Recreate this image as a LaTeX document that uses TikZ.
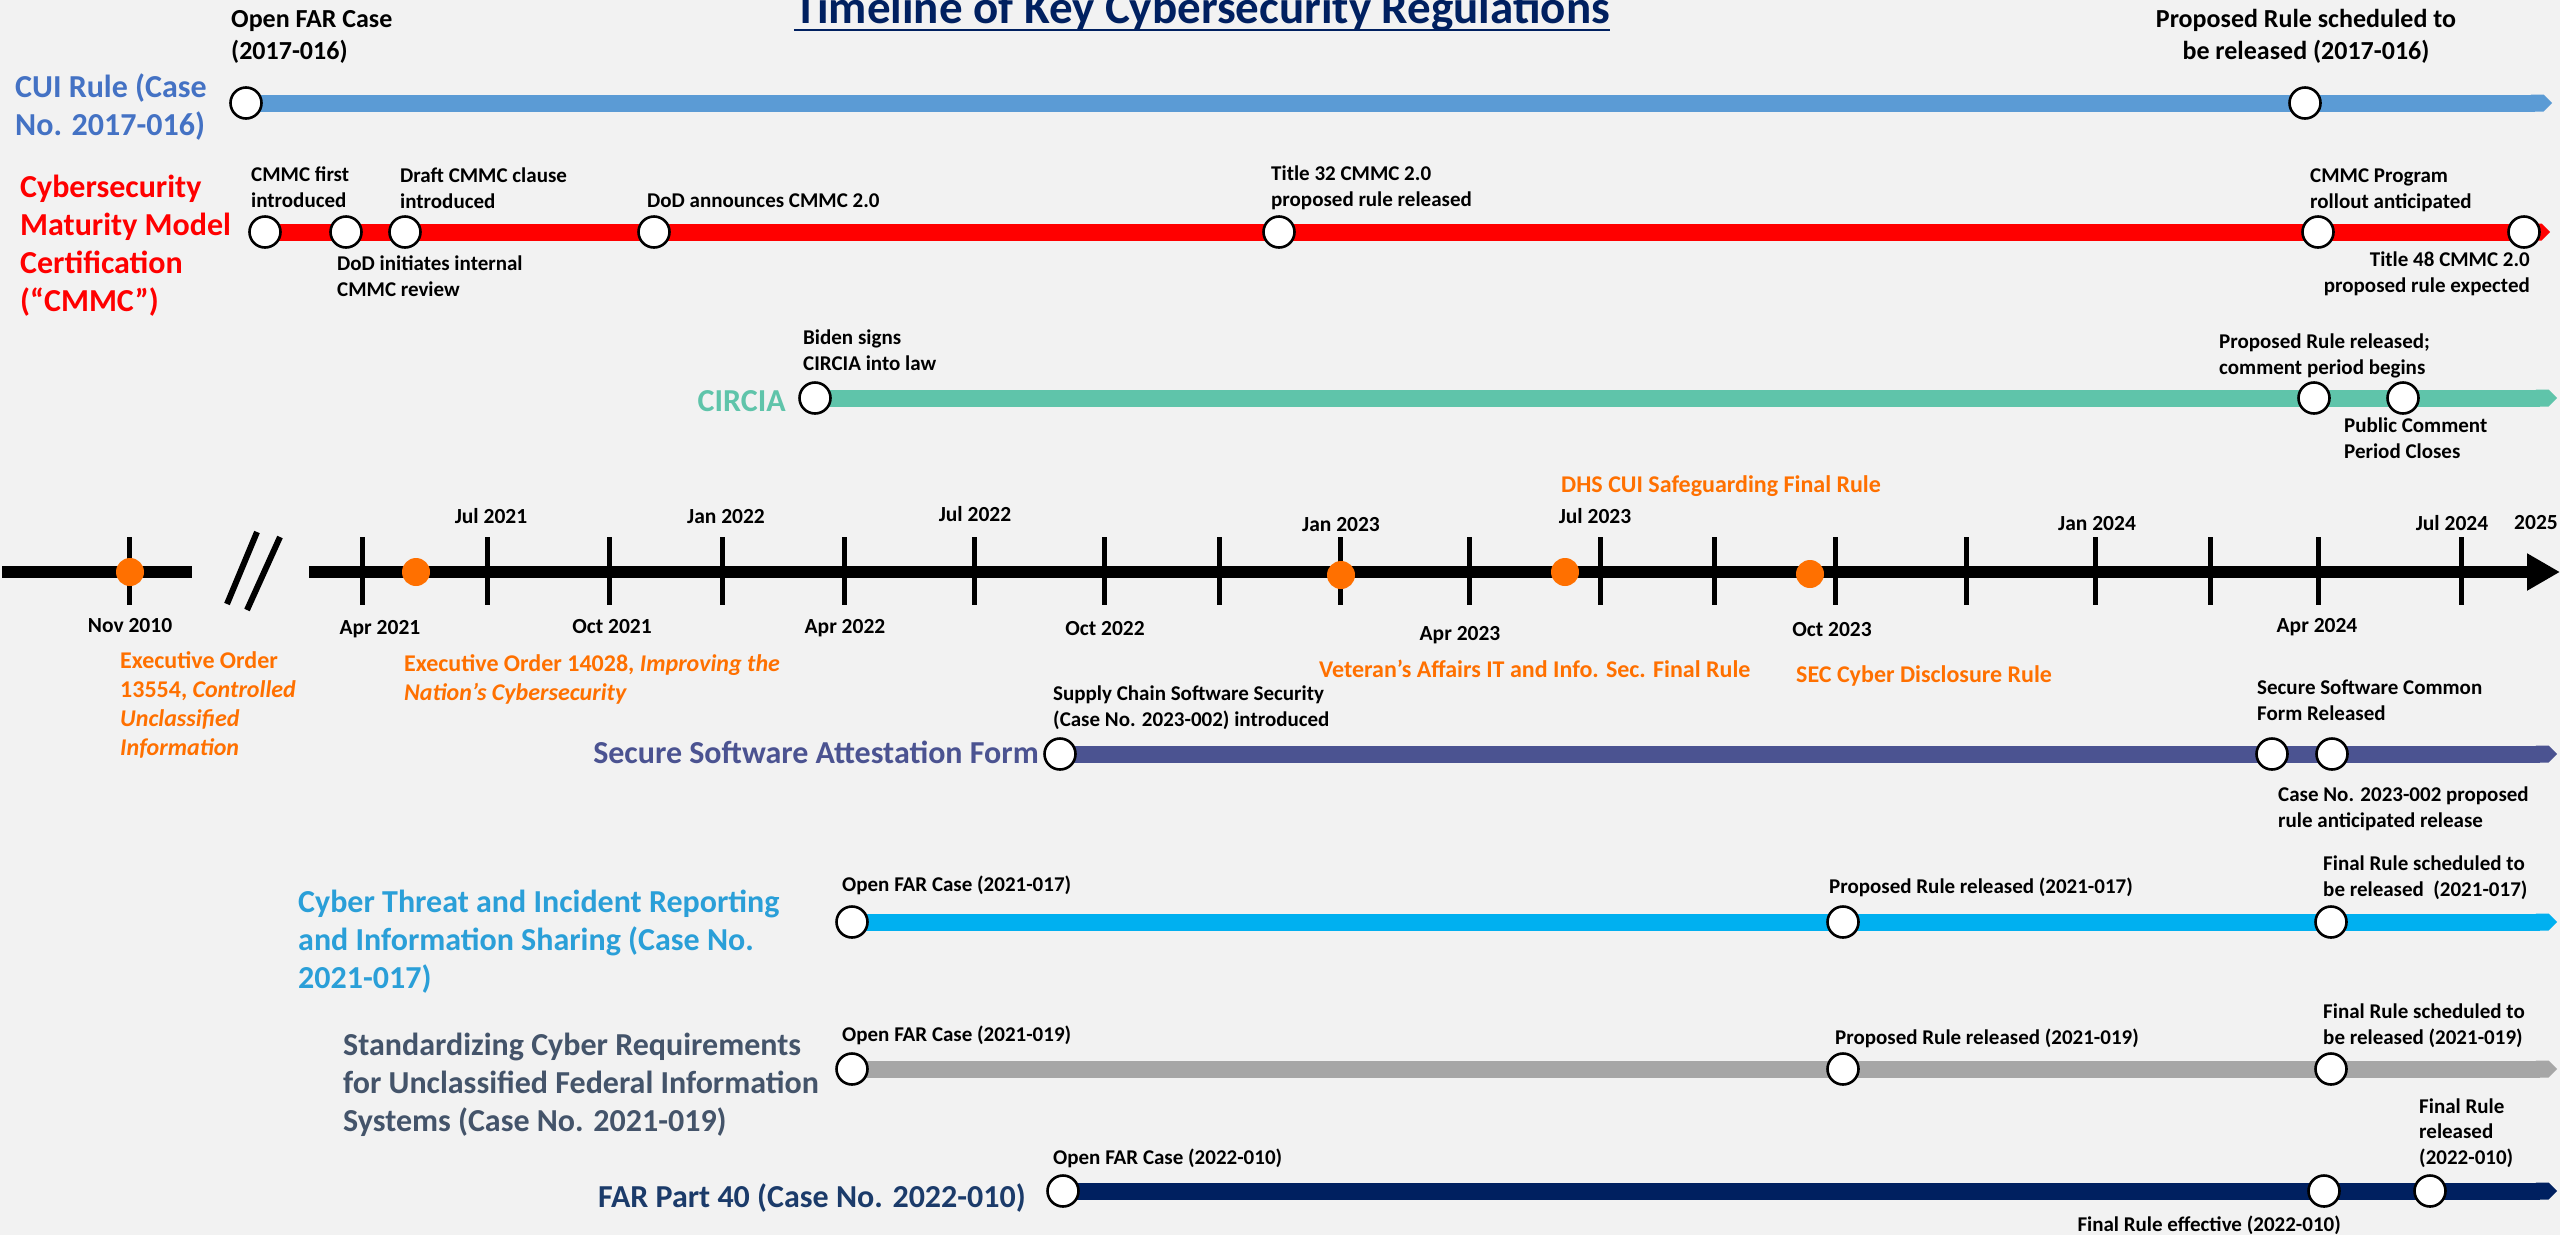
\documentclass[tikz,border=0pt]{standalone}
\usepackage{fontspec}
\setmainfont{Carlito}
\usetikzlibrary{arrows.meta}
\pgfdeclarelayer{background}
\pgfsetlayers{background,main}
\definecolor{bgc}{HTML}{F2F2F2}
\definecolor{navyc}{HTML}{002060}
\definecolor{cuilbl}{HTML}{4472C4}
\definecolor{cuibar}{HTML}{5B9BD5}
\definecolor{circc}{HTML}{5FC4AA}
\definecolor{ssafc}{HTML}{4B5391}
\definecolor{ctlbl}{HTML}{2A9FD8}
\definecolor{ctbar}{HTML}{00B0F0}
\definecolor{stlbl}{HTML}{44546A}
\definecolor{stbar}{HTML}{A6A6A6}
\definecolor{farlbl}{HTML}{1B3B6A}
\definecolor{orangec}{HTML}{FF7000}
\tikzset{
  evt/.style={circle, draw=black, line width=2.6pt, fill=white, minimum size=31pt, inner sep=0pt},
  odot/.style={circle, fill=orangec, minimum size=28pt, inner sep=0pt},
  tickmark/.style={line width=5pt, black},
  barline/.style={line width=17pt, -{Triangle Cap[]}},
  axisline/.style={line width=12pt, black},
  lbl/.style={font=\bfseries\fontsize{21}{25.5}\selectfont, inner sep=0pt, align=left, anchor=base west},
  toplbl/.style={font=\bfseries\fontsize{26}{32}\selectfont, inner sep=0pt},
  rowlbl/.style={font=\bfseries\fontsize{32}{38}\selectfont, inner sep=0pt},
  datelbl/.style={font=\bfseries\fontsize{21.5}{26}\selectfont, inner sep=0pt, anchor=base},
  olbl/.style={font=\bfseries\fontsize{24}{28.7}\selectfont, text=orangec, inner sep=0pt, align=left, anchor=base west}
}
\begin{document}
\begin{tikzpicture}[x=1pt,y=-1pt]
\useasboundingbox (0,0) rectangle (2560,1235);

% ---------- title ----------
\node[anchor=base, font=\bfseries\fontsize{47}{56}\selectfont, text=navyc, inner sep=0pt] (title) at (1202,23) {Timeline of Key Cybersecurity Regulations};
\draw[navyc, line width=2.5pt] ([yshift=-7pt]title.base west) -- ([yshift=-7pt]title.base east);

% ---------- event circles ----------
% CUI
\node[evt] (cui1) at (246,103) {};
\node[evt] (cui2) at (2305,103) {};
\coordinate (cuiend) at (2552,103);
% CMMC
\node[evt] (cm1) at (265,232) {};
\node[evt] (cm2) at (346,232) {};
\node[evt] (cm3) at (405,232) {};
\node[evt] (cm4) at (654,232) {};
\node[evt] (cm5) at (1279,232) {};
\node[evt] (cm6) at (2318,232) {};
\node[evt] (cm7) at (2524,232) {};
\coordinate (cmend) at (2550,232);
% CIRCIA
\node[evt] (ci1) at (815,398) {};
\node[evt] (ci2) at (2314,398) {};
\node[evt] (ci3) at (2403,398) {};
\coordinate (ciend) at (2557,398);
% Secure Software Attestation Form
\node[evt] (ss1) at (1060,754) {};
\node[evt] (ss2) at (2272,754) {};
\node[evt] (ss3) at (2332,754) {};
\coordinate (ssend) at (2557,754);
% Cyber threat
\node[evt] (ct1) at (852,922) {};
\node[evt] (ct2) at (1843,922) {};
\node[evt] (ct3) at (2331,922) {};
\coordinate (ctend) at (2557,922);
% Standardizing
\node[evt] (st1) at (852,1069) {};
\node[evt] (st2) at (1843,1069) {};
\node[evt] (st3) at (2331,1069) {};
\coordinate (stend) at (2557,1069);
% FAR Part 40
\node[evt] (fa1) at (1063,1191) {};
\node[evt] (fa2) at (2324,1191) {};
\node[evt] (fa3) at (2430,1191) {};
\coordinate (faend) at (2557,1191);

% ---------- background and bars ----------
\begin{pgfonlayer}{background}
  \fill[bgc] (0,0) rectangle (2560,1235);
  \draw[barline, cuibar] (cui1.center) -- (cuiend);
  \draw[barline, red] (cm1.center) -- (cmend);
  \draw[barline, circc] (ci1.center) -- (ciend);
  \draw[barline, ssafc] (ss1.center) -- (ssend);
  \draw[barline, ctbar] (ct1.center) -- (ctend);
  \draw[barline, stbar] (st1.center) -- (stend);
  \draw[barline, navyc] (fa1.center) -- (faend);
\end{pgfonlayer}

% ---------- axis ----------
\coordinate (axA) at (2,572);
\coordinate (axB) at (192,572);
\coordinate (axC) at (309,572);
\coordinate (axD) at (2560,572);
\draw[axisline] (axA) -- (axB);
\draw[axisline, -{Triangle[length=33pt, width=35pt]}] (axC) -- (axD);
\draw[line width=6pt] (257,532) -- (227,604);
\draw[line width=6pt] (280,537) -- (247,610);
\foreach \tx in {129,362,487,609,722,844,974,1104,1219,1340,1469,1600,1714,1835,1966,2095,2210,2318,2461}
  \draw[tickmark] (\tx,537) -- (\tx,605);

\node[odot] (o1) at (130,572) {};
\node[odot] (o2) at (416,572) {};
\node[odot] (o3) at (1341,575) {};
\node[odot] (o4) at (1565,572) {};
\node[odot] (o5) at (1810,574) {};

% dates above
\node[datelbl] (d1) at (491,523) {Jul 2021};
\node[datelbl] (d2) at (726,523) {Jan 2022};
\node[datelbl] (d3) at (975,521) {Jul 2022};
\node[datelbl] (d4) at (1341,531) {Jan 2023};
\node[datelbl] (d5) at (1595,523) {Jul 2023};
\node[datelbl] (d6) at (2097,530) {Jan 2024};
\node[datelbl] (d7) at (2452,530) {Jul 2024};
\node[datelbl, anchor=base west] (d8) at (2514,529) {2025};
% dates below
\node[datelbl] (e1) at (130,632) {Nov 2010};
\node[datelbl] (e2) at (380,634) {Apr 2021};
\node[datelbl] (e3) at (612,633) {Oct 2021};
\node[datelbl] (e4) at (845,633) {Apr 2022};
\node[datelbl] (e5) at (1105,635) {Oct 2022};
\node[datelbl] (e6) at (1460,640) {Apr 2023};
\node[datelbl] (e7) at (1832,636) {Oct 2023};
\node[datelbl] (e8) at (2317,632) {Apr 2024};

% orange regulation labels (anchor = baseline of last line)
\node[olbl] (eo1) at (120,755) {Executive Order\\13554, \textit{Controlled}\\\textit{Unclassified}\\\textit{Information}};
\node[olbl] (eo2) at (404,700) {Executive Order 14028, \textit{Improving the}\\\textit{Nation’s Cybersecurity}};
\node[olbl] (dhs) at (1561,492) {DHS CUI Safeguarding Final Rule};
\node[olbl] (va) at (1319,677) {Veteran’s Affairs IT and Info. Sec. Final Rule};
\node[olbl] (sec) at (1796,682) {SEC Cyber Disclosure Rule};

% ---------- row labels ----------
\node[rowlbl, text=cuilbl, align=left, anchor=base west] (Lcui) at (15,135) {CUI Rule (Case\\No. 2017-016)};
\node[rowlbl, text=red, align=left, anchor=base west] (Lcm) at (20,311) {Cybersecurity\\Maturity Model\\Certification\\(“CMMC”)};
\node[rowlbl, text=circc, anchor=base east] (Lci) at (786,411) {CIRCIA};
\node[rowlbl, text=ssafc, anchor=base east] (Lss) at (1039,763) {Secure Software Attestation Form};
\node[rowlbl, text=ctlbl, align=left, anchor=base west] (Lct) at (298,988) {Cyber Threat and Incident Reporting\\and Information Sharing (Case No.\\2021-017)};
\node[rowlbl, text=stlbl, align=left, anchor=base west] (Lst) at (343,1131) {Standardizing Cyber Requirements\\for Unclassified Federal Information\\Systems (Case No. 2021-019)};
\node[rowlbl, text=farlbl, anchor=base east] (Lfa) at (1026,1207) {FAR Part 40 (Case No. 2022-010)};

% ---------- event labels (anchor = baseline of last line) ----------
% CUI
\node[toplbl, align=left, anchor=base west] (t1) at (231,59) {Open FAR Case\\(2017-016)};
\node[toplbl, align=center, anchor=base] (t2) at (2306,59) {Proposed Rule scheduled to\\be released (2017-016)};
% CMMC
\node[lbl] (m1) at (251,207) {CMMC first\\introduced};
\node[lbl] (m2) at (337,296) {DoD initiates internal\\CMMC review};
\node[lbl] (m3) at (400,208) {Draft CMMC clause\\introduced};
\node[lbl] (m4) at (647,207) {DoD announces CMMC 2.0};
\node[lbl] (m5) at (1271,206) {Title 32 CMMC 2.0\\proposed rule released};
\node[lbl] (m6) at (2310,208) {CMMC Program\\rollout anticipated};
\node[lbl, align=right, anchor=base east] (m7) at (2530,292) {Title 48 CMMC 2.0\\proposed rule expected};
% CIRCIA
\node[lbl] (c1) at (803,370) {Biden signs\\CIRCIA into law};
\node[lbl] (c2) at (2219,374) {Proposed Rule released;\\comment period begins};
\node[lbl] (c3) at (2344,458) {Public Comment\\Period Closes};
% SSAF
\node[lbl] (s1) at (1053,726) {Supply Chain Software Security\\(Case No. 2023-002) introduced};
\node[lbl] (s2) at (2257,720) {Secure Software Common\\Form Released};
\node[lbl] (s3) at (2278,827) {Case No. 2023-002 proposed\\rule anticipated release};
% Cyber threat
\node[lbl] (k1) at (842,891) {Open FAR Case (2021-017)};
\node[lbl] (k2) at (1829,893) {Proposed Rule released (2021-017)};
\node[lbl] (k3) at (2323,896) {Final Rule scheduled to\\be released~ (2021-017)};
% Standardizing
\node[lbl] (n1) at (842,1041) {Open FAR Case (2021-019)};
\node[lbl] (n2) at (1835,1044) {Proposed Rule released (2021-019)};
\node[lbl] (n3) at (2323,1044) {Final Rule scheduled to\\be released (2021-019)};
% FAR Part 40
\node[lbl] (f1) at (1053,1164) {Open FAR Case (2022-010)};
\node[lbl] (f2) at (2419,1164) {Final Rule\\released\\(2022-010)};
\node[lbl, anchor=base east] (f3) at (2341,1231) {Final Rule effective (2022-010)};
\end{tikzpicture}
\end{document}
